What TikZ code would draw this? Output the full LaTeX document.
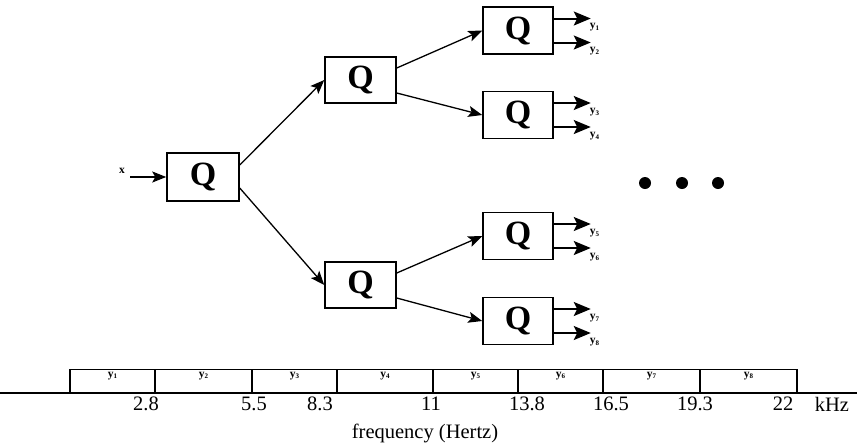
\documentclass[tikz,border=0pt]{standalone}
\usepackage{fontspec}
\setmainfont{Liberation Serif}
\usetikzlibrary{arrows.meta}
\newcommand{\ylab}[1]{{\bfseries y\raisebox{-0.3ex}{\fontsize{7}{7}\selectfont #1}}}
\tikzset{
  qbox/.style={draw, line width=1.5pt, minimum width=71pt, minimum height=46pt, inner sep=0pt,
    font=\bfseries\fontsize{34}{34}\selectfont},
  conn/.style={line width=1.3pt, -{Stealth[length=14pt,width=11pt,inset=3pt]}},
  outarr/.style={line width=2pt, -{Stealth[length=17pt,width=14pt,inset=3.5pt]}},
  ylabel/.style={font=\fontsize{11.5}{12}\selectfont, inner sep=0pt},
  tick/.style={font=\fontsize{20.5}{21}\selectfont, inner sep=0pt},
  cell/.style={line width=1.6pt},
  dot/.style={fill=black}
}
\begin{document}
\begin{tikzpicture}[x=1pt,y=-1pt]
\useasboundingbox (0,0) rectangle (862,445);
% Q boxes
\node[qbox, minimum width=72pt, minimum height=48pt] (R) at (203,177) {Q};
\node[qbox] (U) at (360.5,80) {Q};
\node[qbox] (L) at (360.5,285) {Q};
\node[qbox, minimum width=70pt, minimum height=47pt] (C1) at (518,30.5) {Q};
\node[qbox, minimum width=70pt, minimum height=47pt] (C2) at (518,115) {Q};
\node[qbox, minimum width=70pt, minimum height=47pt] (C3) at (518,236) {Q};
\node[qbox, minimum width=70pt, minimum height=47pt] (C4) at (518,321) {Q};
% input
\coordinate (xin) at (130,177);
\node[ylabel] (xl) at (122,171) {\bfseries x};
\draw[conn] (xin) -- (R.west);
% tree connectors
\draw[conn] ([yshift=12pt]R.east) -- (U.west);
\draw[conn] ([yshift=-11pt]R.east) -- (L.west);
\draw[conn] ([yshift=12pt]U.east) -- (C1.west);
\draw[conn] ([yshift=-13pt]U.east) -- (C2.west);
\draw[conn] ([yshift=12pt]L.east) -- (C3.west);
\draw[conn] ([yshift=-13pt]L.east) -- (C4.west);
% outputs
\foreach \c/\a/\b in {C1/1/2, C2/3/4, C3/5/6, C4/7/8}{
  \coordinate (o\a) at ([xshift=37pt,yshift=12pt]\c.east);
  \coordinate (o\b) at ([xshift=37pt,yshift=-12pt]\c.east);
  \draw[outarr] ([yshift=12pt]\c.east) -- (o\a);
  \draw[outarr] ([yshift=-12pt]\c.east) -- (o\b);
  \node[ylabel, anchor=north west] (yl\a) at ([xshift=-1pt,yshift=-5pt]o\a) {\ylab{\a}};
  \node[ylabel, anchor=north west] (yl\b) at ([xshift=-1pt,yshift=-5pt]o\b) {\ylab{\b}};
}
% dots
\fill[dot] (645,183) circle (6);
\fill[dot] (682,183) circle (6);
\fill[dot] (718,183) circle (6);
% frequency band
\draw[line width=1pt] (70,369) -- (797,369);
\foreach \x in {70,155,252,337,433,518,603,700,797}{
  \draw[cell] (\x,369) -- (\x,393);
}
\draw[line width=1.6pt] (0,393) -- (857,393);
\foreach \l/\x in {1/112.5, 2/203.5, 3/294.5, 4/385, 5/475.5, 6/560.5, 7/651.5, 8/748.5}{
  \node[ylabel] (b\l) at (\x,376) {\ylab{\l}};
}
\foreach \t/\x in {2.8/146, 5.5/254, 8.3/320, 11/431, 13.8/527, 16.5/611, 19.3/695, 22/783}{
  \node[tick] at (\x,404) {\t};
}
\node[tick] (khz) at (832,404) {kHz};
\node[tick] (freq) at (425,433) {frequency (Hertz)};
\end{tikzpicture}
\end{document}
